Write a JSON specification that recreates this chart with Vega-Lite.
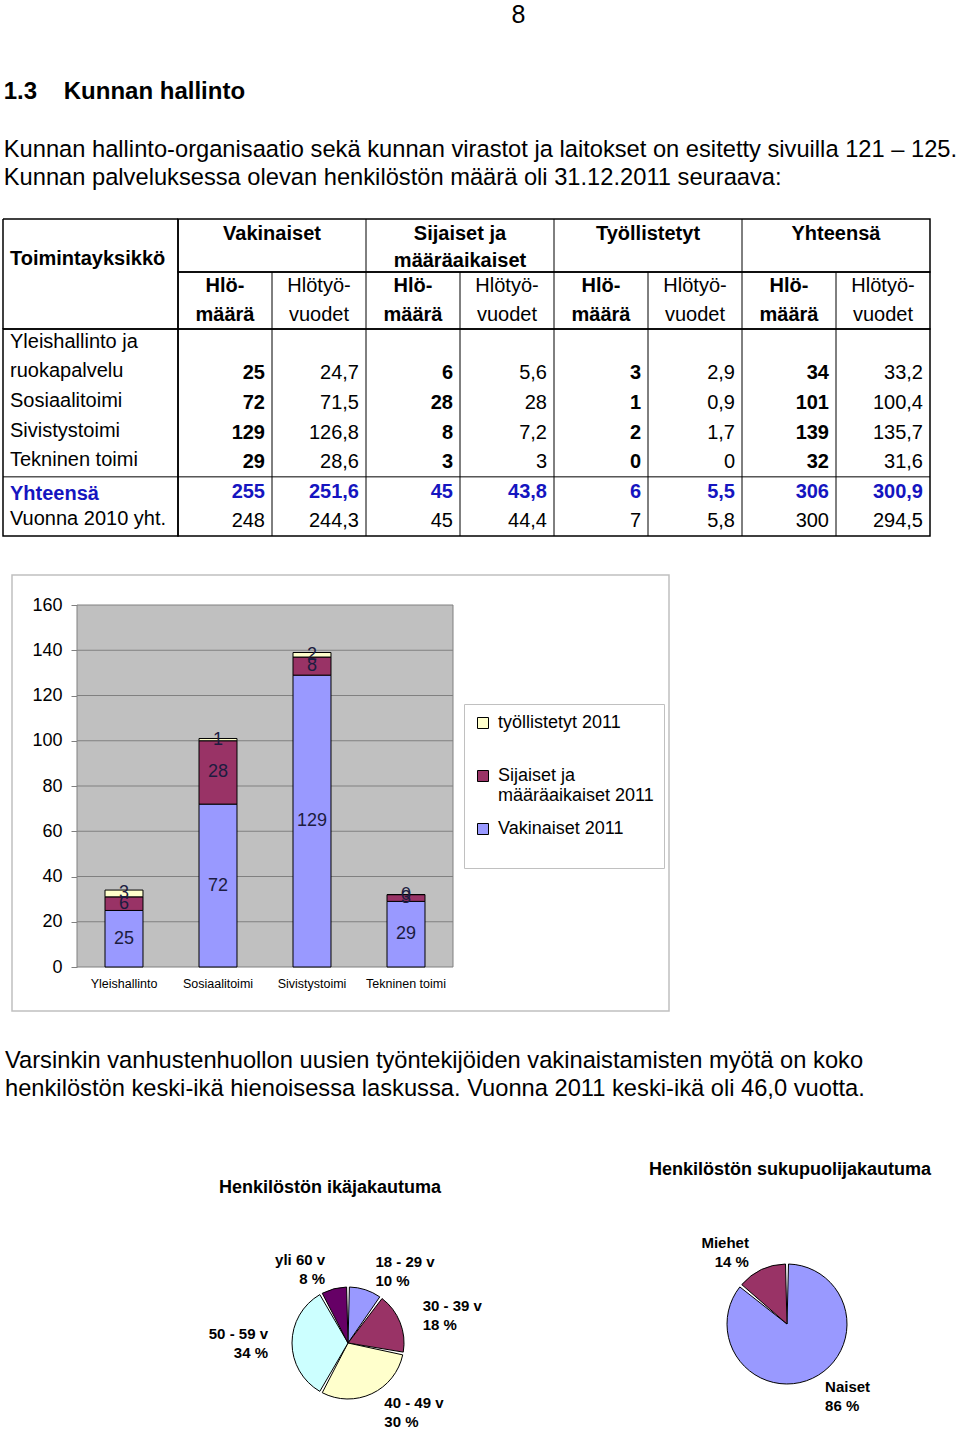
{
  "$schema": "https://vega.github.io/schema/vega-lite/v6.json",
  "padding": {"left": 1, "top": 3, "right": 0, "bottom": 0},
  "background": "white",
  "title": {"text": "8", "fontSize": 25, "fontWeight": "normal", "anchor": "middle", "dx": 39, "offset": 52},
  "spacing": 36,
  "resolve": {"scale": {"color": "independent"}, "legend": {"color": "independent"}},
  "vconcat": [
    {
      "title": {
        "text": "1.3\u00a0\u00a0\u00a0\u00a0Kunnan hallinto",
        "subtitle": ["Kunnan hallinto-organisaatio sekä kunnan virastot ja laitokset on esitetty sivuilla 121 – 125.", "Kunnan palveluksessa olevan henkilöstön määrä oli 31.12.2011 seuraava:"],
        "anchor": "start", "fontSize": 24, "fontWeight": "bold", "subtitleFontSize": 23.7, "subtitleLineHeight": 28, "subtitlePadding": 34, "offset": 28, "dx": 2
      },
      "columns": 2,
      "bounds": "flush",
      "spacing": 0,
      "concat": [
        {
          "width": 175, "height": 53,
          "layer": [
            {
              "data": {"values": [{"row": "h2", "label": "Toimintayksikkö"}]},
              "mark": {"type": "text", "align": "left", "baseline": "middle", "dx": 7, "fontSize": 20, "fontWeight": "bold"},
              "encoding": {
                "x": {"datum": "name", "type": "nominal", "bandPosition": 0, "axis": null, "scale": {"type": "band", "paddingInner": 0, "paddingOuter": 0}},
                "y": {"field": "row", "type": "nominal", "axis": null, "scale": {"type": "band", "domain": ["h1", "h2"], "paddingInner": 0, "paddingOuter": 0}},
                "text": {"field": "label"}
              }
            },
            {
              "data": {"values": [{}]},
              "mark": {"type": "rule", "color": "black", "strokeWidth": 1.5},
              "encoding": {"y": {"datum": "h1", "type": "nominal", "bandPosition": 0, "axis": null, "scale": {"type": "band", "domain": ["h1", "h2"], "paddingInner": 0, "paddingOuter": 0}}}
            },
            {
              "data": {"values": [{}]},
              "mark": {"type": "rule", "color": "black", "strokeWidth": 1.5},
              "encoding": {"x": {"datum": "name", "type": "nominal", "bandPosition": 0, "axis": null, "scale": {"type": "band", "paddingInner": 0, "paddingOuter": 0}}}
            },
            {
              "data": {"values": [{}]},
              "mark": {"type": "rule", "color": "black", "strokeWidth": 1.5},
              "encoding": {"x": {"datum": "name", "type": "nominal", "bandPosition": 1, "axis": null, "scale": {"type": "band", "paddingInner": 0, "paddingOuter": 0}}}
            }
          ]
        },
        {
          "width": 752, "height": 53,
          "view": {"stroke": "black", "strokeWidth": 1.5},
          "layer": [
            {
              "data": {"values": [
                {"col": "v_v", "row": "h1", "label": "Vakinaiset"},
                {"col": "s_v", "row": "h1", "label": "Sijaiset ja"},
                {"col": "s_v", "row": "h2", "label": "määräaikaiset"},
                {"col": "t_v", "row": "h1", "label": "Työllistetyt"},
                {"col": "y_v", "row": "h1", "label": "Yhteensä"}
              ]},
              "mark": {"type": "text", "align": "center", "baseline": "middle", "dy": 2, "fontSize": 20, "fontWeight": "bold"},
              "encoding": {
                "x": {"field": "col", "type": "nominal", "bandPosition": 0, "axis": null, "scale": {"type": "band", "domain": ["v_n", "v_v", "s_n", "s_v", "t_n", "t_v", "y_n", "y_v"], "paddingInner": 0, "paddingOuter": 0}},
                "y": {"field": "row", "type": "nominal", "axis": null, "scale": {"type": "band", "domain": ["h1", "h2"], "paddingInner": 0, "paddingOuter": 0}},
                "text": {"field": "label"}
              }
            },
            {
              "data": {"values": [{"col": "s_n"}, {"col": "t_n"}, {"col": "y_n"}]},
              "mark": {"type": "rule", "color": "black", "strokeWidth": 1},
              "encoding": {
                "x": {"field": "col", "type": "nominal", "bandPosition": 0, "axis": null, "scale": {"type": "band", "domain": ["v_n", "v_v", "s_n", "s_v", "t_n", "t_v", "y_n", "y_v"], "paddingInner": 0, "paddingOuter": 0}}
              }
            }
          ]
        },
        {
          "width": 175, "height": 57,
          "layer": [
            {
              "data": {"values": [{}]},
              "mark": {"type": "rule", "color": "black", "strokeWidth": 1.5},
              "encoding": {"y": {"datum": "h4", "type": "nominal", "bandPosition": 1, "axis": null, "scale": {"type": "band", "domain": ["h3", "h4"], "paddingInner": 0, "paddingOuter": 0}}}
            },
            {
              "data": {"values": [{}]},
              "mark": {"type": "rule", "color": "black", "strokeWidth": 1.5},
              "encoding": {"x": {"datum": "name", "type": "nominal", "bandPosition": 0, "axis": null, "scale": {"type": "band", "paddingInner": 0, "paddingOuter": 0}}}
            },
            {
              "data": {"values": [{}]},
              "mark": {"type": "rule", "color": "black", "strokeWidth": 1.5},
              "encoding": {"x": {"datum": "name", "type": "nominal", "bandPosition": 1, "axis": null, "scale": {"type": "band", "paddingInner": 0, "paddingOuter": 0}}}
            }
          ]
        },
        {
          "width": 752, "height": 57,
          "view": {"stroke": "black", "strokeWidth": 1.5},
          "layer": [
            {
              "data": {"name": "subhead", "values": [
                {"col": "v_n", "row": "h3", "label": "Hlö-"}, {"col": "v_n", "row": "h4", "label": "määrä"},
                {"col": "v_v", "row": "h3", "label": "Hlötyö-"}, {"col": "v_v", "row": "h4", "label": "vuodet"},
                {"col": "s_n", "row": "h3", "label": "Hlö-"}, {"col": "s_n", "row": "h4", "label": "määrä"},
                {"col": "s_v", "row": "h3", "label": "Hlötyö-"}, {"col": "s_v", "row": "h4", "label": "vuodet"},
                {"col": "t_n", "row": "h3", "label": "Hlö-"}, {"col": "t_n", "row": "h4", "label": "määrä"},
                {"col": "t_v", "row": "h3", "label": "Hlötyö-"}, {"col": "t_v", "row": "h4", "label": "vuodet"},
                {"col": "y_n", "row": "h3", "label": "Hlö-"}, {"col": "y_n", "row": "h4", "label": "määrä"},
                {"col": "y_v", "row": "h3", "label": "Hlötyö-"}, {"col": "y_v", "row": "h4", "label": "vuodet"}
              ]},
              "transform": [{"filter": "substring(datum.col, 2, 3) == 'n'"}],
              "mark": {"type": "text", "align": "center", "baseline": "middle", "fontSize": 20, "fontWeight": "bold"},
              "encoding": {
                "x": {"field": "col", "type": "nominal", "bandPosition": 0.5, "axis": null, "scale": {"type": "band", "domain": ["v_n", "v_v", "s_n", "s_v", "t_n", "t_v", "y_n", "y_v"], "paddingInner": 0, "paddingOuter": 0}},
                "y": {"field": "row", "type": "nominal", "axis": null, "scale": {"type": "band", "domain": ["h3", "h4"], "paddingInner": 0, "paddingOuter": 0}},
                "text": {"field": "label"}
              }
            },
            {
              "data": {"name": "subhead"},
              "transform": [{"filter": "substring(datum.col, 2, 3) == 'v'"}],
              "mark": {"type": "text", "align": "center", "baseline": "middle", "fontSize": 20},
              "encoding": {
                "x": {"field": "col", "type": "nominal", "bandPosition": 0.5, "axis": null, "scale": {"type": "band", "domain": ["v_n", "v_v", "s_n", "s_v", "t_n", "t_v", "y_n", "y_v"], "paddingInner": 0, "paddingOuter": 0}},
                "y": {"field": "row", "type": "nominal", "axis": null, "scale": {"type": "band", "domain": ["h3", "h4"], "paddingInner": 0, "paddingOuter": 0}},
                "text": {"field": "label"}
              }
            },
            {
              "data": {"values": [{"col": "v_v"}, {"col": "s_n"}, {"col": "s_v"}, {"col": "t_n"}, {"col": "t_v"}, {"col": "y_n"}, {"col": "y_v"}]},
              "mark": {"type": "rule", "color": "black", "strokeWidth": 1},
              "encoding": {
                "x": {"field": "col", "type": "nominal", "bandPosition": 0, "axis": null, "scale": {"type": "band", "domain": ["v_n", "v_v", "s_n", "s_v", "t_n", "t_v", "y_n", "y_v"], "paddingInner": 0, "paddingOuter": 0}}
              }
            }
          ]
        },
        {
          "width": 175, "height": 207,
          "view": {"stroke": "black", "strokeWidth": 1.5},
          "data": {"values": [
            {"row": "r1", "label": "Yleishallinto ja"},
            {"row": "r2", "label": "ruokapalvelu"},
            {"row": "r3", "label": "Sosiaalitoimi"},
            {"row": "r4", "label": "Sivistystoimi"},
            {"row": "r5", "label": "Tekninen toimi"},
            {"row": "r6", "label": "Yhteensä"},
            {"row": "r7", "label": "Vuonna 2010 yht."}
          ]},
          "layer": [
            {
              "transform": [{"filter": "datum.row != 'r6'"}],
              "mark": {"type": "text", "align": "left", "baseline": "middle", "dx": 7, "dy": -2, "fontSize": 20},
              "encoding": {
                "x": {"datum": "name", "type": "nominal", "bandPosition": 0, "axis": null, "scale": {"type": "band", "paddingInner": 0, "paddingOuter": 0}},
                "y": {"field": "row", "type": "nominal", "axis": null, "scale": {"type": "band", "domain": ["r1", "r2", "r3", "r4", "r5", "r6", "r7"], "paddingInner": 0, "paddingOuter": 0}},
                "text": {"field": "label"}
              }
            },
            {
              "transform": [{"filter": "datum.row == 'r6'"}],
              "mark": {"type": "text", "align": "left", "baseline": "middle", "dx": 7, "dy": 2, "fontSize": 20, "fontWeight": "bold", "color": "#1515c0"},
              "encoding": {
                "x": {"datum": "name", "type": "nominal", "bandPosition": 0, "axis": null, "scale": {"type": "band", "paddingInner": 0, "paddingOuter": 0}},
                "y": {"field": "row", "type": "nominal", "axis": null, "scale": {"type": "band", "domain": ["r1", "r2", "r3", "r4", "r5", "r6", "r7"], "paddingInner": 0, "paddingOuter": 0}},
                "text": {"field": "label"}
              }
            },
            {
              "data": {"values": [{"row": "r6"}]},
              "mark": {"type": "rule", "color": "black", "strokeWidth": 1},
              "encoding": {
                "y": {"field": "row", "type": "nominal", "bandPosition": 0, "axis": null, "scale": {"type": "band", "domain": ["r1", "r2", "r3", "r4", "r5", "r6", "r7"], "paddingInner": 0, "paddingOuter": 0}}
              }
            }
          ]
        },
        {
          "width": 752, "height": 207,
          "view": {"stroke": "black", "strokeWidth": 1.5},
          "layer": [
            {
              "data": {"name": "body", "values": [
                {"row": "r2", "unit": "Yleishallinto ja ruokapalvelu", "v_n": 25, "v_v": 24.7, "s_n": 6, "s_v": 5.6, "t_n": 3, "t_v": 2.9, "y_n": 34, "y_v": 33.2},
                {"row": "r3", "unit": "Sosiaalitoimi", "v_n": 72, "v_v": 71.5, "s_n": 28, "s_v": 28, "t_n": 1, "t_v": 0.9, "y_n": 101, "y_v": 100.4},
                {"row": "r4", "unit": "Sivistystoimi", "v_n": 129, "v_v": 126.8, "s_n": 8, "s_v": 7.2, "t_n": 2, "t_v": 1.7, "y_n": 139, "y_v": 135.7},
                {"row": "r5", "unit": "Tekninen toimi", "v_n": 29, "v_v": 28.6, "s_n": 3, "s_v": 3, "t_n": 0, "t_v": 0, "y_n": 32, "y_v": 31.6},
                {"row": "r6", "unit": "Yhteensä", "v_n": 255, "v_v": 251.6, "s_n": 45, "s_v": 43.8, "t_n": 6, "t_v": 5.5, "y_n": 306, "y_v": 300.9},
                {"row": "r7", "unit": "Vuonna 2010 yht.", "v_n": 248, "v_v": 244.3, "s_n": 45, "s_v": 44.4, "t_n": 7, "t_v": 5.8, "y_n": 300, "y_v": 294.5}
              ]},
              "transform": [
                {"fold": ["v_n", "v_v", "s_n", "s_v", "t_n", "t_v", "y_n", "y_v"], "as": ["col", "val"]},
                {"filter": "(substring(datum.col, 2, 3) == 'n' && datum.row != 'r7') || datum.row == 'r6'"}
              ],
              "mark": {"type": "text", "align": "right", "baseline": "middle", "dx": -7, "fontSize": 20, "fontWeight": "bold"},
              "encoding": {
                "x": {"field": "col", "type": "nominal", "bandPosition": 1, "axis": null, "scale": {"type": "band", "domain": ["v_n", "v_v", "s_n", "s_v", "t_n", "t_v", "y_n", "y_v"], "paddingInner": 0, "paddingOuter": 0}},
                "y": {"field": "row", "type": "nominal", "axis": null, "scale": {"type": "band", "domain": ["r1", "r2", "r3", "r4", "r5", "r6", "r7"], "paddingInner": 0, "paddingOuter": 0}},
                "text": {"field": "val", "type": "quantitative", "format": ".1~f"},
                "color": {"condition": {"test": "datum.row == 'r6'", "value": "#1515c0"}, "value": "black"}
              }
            },
            {
              "data": {"name": "body"},
              "transform": [
                {"fold": ["v_n", "v_v", "s_n", "s_v", "t_n", "t_v", "y_n", "y_v"], "as": ["col", "val"]},
                {"filter": "!((substring(datum.col, 2, 3) == 'n' && datum.row != 'r7') || datum.row == 'r6')"}
              ],
              "mark": {"type": "text", "align": "right", "baseline": "middle", "dx": -7, "fontSize": 20, "color": "black"},
              "encoding": {
                "x": {"field": "col", "type": "nominal", "bandPosition": 1, "axis": null, "scale": {"type": "band", "domain": ["v_n", "v_v", "s_n", "s_v", "t_n", "t_v", "y_n", "y_v"], "paddingInner": 0, "paddingOuter": 0}},
                "y": {"field": "row", "type": "nominal", "axis": null, "scale": {"type": "band", "domain": ["r1", "r2", "r3", "r4", "r5", "r6", "r7"], "paddingInner": 0, "paddingOuter": 0}},
                "text": {"field": "val", "type": "quantitative", "format": ".1~f"}
              }
            },
            {
              "data": {"values": [{"col": "v_v"}, {"col": "s_n"}, {"col": "s_v"}, {"col": "t_n"}, {"col": "t_v"}, {"col": "y_n"}, {"col": "y_v"}]},
              "mark": {"type": "rule", "color": "black", "strokeWidth": 1},
              "encoding": {
                "x": {"field": "col", "type": "nominal", "bandPosition": 0, "axis": null, "scale": {"type": "band", "domain": ["v_n", "v_v", "s_n", "s_v", "t_n", "t_v", "y_n", "y_v"], "paddingInner": 0, "paddingOuter": 0}}
              }
            },
            {
              "data": {"values": [{"row": "r6"}]},
              "mark": {"type": "rule", "color": "black", "strokeWidth": 1},
              "encoding": {
                "y": {"field": "row", "type": "nominal", "bandPosition": 0, "axis": null, "scale": {"type": "band", "domain": ["r1", "r2", "r3", "r4", "r5", "r6", "r7"], "paddingInner": 0, "paddingOuter": 0}}
              }
            }
          ]
        }
      ]
    },
    {
      "bounds": "flush",
      "spacing": 8,
      "hconcat": [
        {"width": 1, "height": 1, "data": {"values": []}, "mark": "point"},
        {
          "width": 657, "height": 436,
          "view": {"stroke": "#c0c0c0", "strokeWidth": 1.5, "fill": "white"},
          "data": {"values": [
            {"unit": "Yleishallinto", "series": "Vakinaiset 2011", "value": 25},
            {"unit": "Yleishallinto", "series": "Sijaiset ja määräaikaiset 2011", "value": 6},
            {"unit": "Yleishallinto", "series": "työllistetyt 2011", "value": 3},
            {"unit": "Sosiaalitoimi", "series": "Vakinaiset 2011", "value": 72},
            {"unit": "Sosiaalitoimi", "series": "Sijaiset ja määräaikaiset 2011", "value": 28},
            {"unit": "Sosiaalitoimi", "series": "työllistetyt 2011", "value": 1},
            {"unit": "Sivistystoimi", "series": "Vakinaiset 2011", "value": 129},
            {"unit": "Sivistystoimi", "series": "Sijaiset ja määräaikaiset 2011", "value": 8},
            {"unit": "Sivistystoimi", "series": "työllistetyt 2011", "value": 2},
            {"unit": "Tekninen toimi", "series": "Vakinaiset 2011", "value": 29},
            {"unit": "Tekninen toimi", "series": "Sijaiset ja määräaikaiset 2011", "value": 3},
            {"unit": "Tekninen toimi", "series": "työllistetyt 2011", "value": 0}
          ]},
          "transform": [
            {"calculate": "indexof(['Vakinaiset 2011', 'Sijaiset ja määräaikaiset 2011', 'työllistetyt 2011'], datum.series)", "as": "ord"},
            {"stack": "value", "groupby": ["unit"], "sort": [{"field": "ord", "order": "ascending"}], "as": ["y0", "y1"]},
            {"calculate": "(datum.y0 + datum.y1) / 2", "as": "ymid"}
          ],
          "layer": [
            {
              "data": {"values": [{}]},
              "mark": {"type": "rect", "fill": "#c0c0c0", "stroke": "#808080", "strokeWidth": 1},
              "encoding": {
                "x": {"datum": 0, "type": "quantitative", "scale": {"domain": [0, 1], "range": [65, 441]}, "axis": null},
                "x2": {"datum": 1},
                "y": {"datum": 0, "type": "quantitative", "scale": {"domain": [0, 160], "range": [392, 30], "nice": false, "zero": false},
                      "axis": {"title": null, "orient": "left", "offset": -65, "values": [0, 20, 40, 60, 80, 100, 120, 140, 160], "domain": false, "grid": false, "ticks": true, "tickSize": 6, "tickColor": "#808080", "labelFontSize": 18, "labelColor": "black", "labelPadding": 9}},
                "y2": {"datum": 160}
              }
            },
            {
              "data": {"values": [{"v": 20}, {"v": 40}, {"v": 60}, {"v": 80}, {"v": 100}, {"v": 120}, {"v": 140}]},
              "mark": {"type": "rule", "color": "#808080", "strokeWidth": 1},
              "encoding": {
                "x": {"datum": 0, "type": "quantitative", "scale": {"domain": [0, 1], "range": [65, 441]}, "axis": null},
                "x2": {"datum": 1},
                "y": {"field": "v", "type": "quantitative"}
              }
            },
            {
              "mark": {"type": "bar", "stroke": "black", "strokeWidth": 1},
              "encoding": {
                "x": {"field": "unit", "type": "nominal", "sort": null, "scale": {"domain": ["Yleishallinto", "Sosiaalitoimi", "Sivistystoimi", "Tekninen toimi"], "range": [65, 441], "paddingInner": 0.596, "paddingOuter": 0.298},
                      "axis": {"title": null, "orient": "bottom", "offset": -44, "domain": false, "ticks": false, "labelFontSize": 12.5, "labelColor": "black", "labelPadding": 10, "labelAngle": 0}},
                "y": {"field": "y0", "type": "quantitative"},
                "y2": {"field": "y1"},
                "color": {"field": "series", "type": "nominal",
                  "scale": {"domain": ["työllistetyt 2011", "Sijaiset ja määräaikaiset 2011", "Vakinaiset 2011"], "range": ["#ffffcc", "#993366", "#9999ff"]},
                  "legend": {"title": null, "orient": "none", "legendX": 461, "legendY": 129, "direction": "vertical", "symbolType": "square", "symbolSize": 121, "symbolStrokeColor": "black", "symbolStrokeWidth": 1, "labelFontSize": 18, "labelColor": "black", "labelLimit": 400, "strokeColor": "#c0c0c0", "fillColor": "white", "padding": 10, "rowPadding": 15, "labelOffset": 6,
                    "labelExpr": "datum.label == 'Sijaiset ja määräaikaiset 2011' ? ['Sijaiset ja', 'määräaikaiset 2011'] : [datum.label, '']"}}
              }
            },
            {
              "mark": {"type": "text", "fontSize": 18, "color": "#1c1c40", "baseline": "middle"},
              "encoding": {
                "x": {"field": "unit", "type": "nominal", "sort": null, "scale": {"type": "band", "domain": ["Yleishallinto", "Sosiaalitoimi", "Sivistystoimi", "Tekninen toimi"], "range": [65, 441], "paddingInner": 0.596, "paddingOuter": 0.298}, "axis": null},
                "y": {"field": "ymid", "type": "quantitative"},
                "text": {"field": "value", "type": "quantitative"}
              }
            }
          ],
          "resolve": {"scale": {"x": "independent"}}
        }
      ]
    },
    {
      "title": {
        "text": ["Varsinkin vanhustenhuollon uusien työntekijöiden vakinaistamisten myötä on koko", "henkilöstön keski-ikä hienoisessa laskussa. Vuonna 2011 keski-ikä oli 46,0 vuotta."],
        "anchor": "start", "fontSize": 23.7, "fontWeight": "normal", "lineHeight": 28, "offset": 60, "dx": 2
      },
      "bounds": "flush",
      "spacing": 0,
      "resolve": {"scale": {"color": "independent"}},
      "hconcat": [
        {
          "width": 690, "height": 166,
          "title": {"text": "Henkilöstön ikäjakautuma", "fontSize": 18, "fontWeight": "bold", "anchor": "middle", "offset": 56, "dx": -18},
          "data": {"values": [
            {"group": "18 - 29 v", "pct": 10},
            {"group": "30 - 39 v", "pct": 18},
            {"group": "40 - 49 v", "pct": 30},
            {"group": "50 - 59 v", "pct": 34},
            {"group": "yli 60 v", "pct": 8}
          ]},
          "transform": [{"calculate": "[datum.group, datum.pct + ' %']", "as": "lbl"}],
          "layer": [
            {
              "mark": {"type": "arc", "outerRadius": 56, "stroke": "black", "strokeWidth": 1, "padAngle": 0.05},
              "encoding": {
                "theta": {"field": "pct", "type": "quantitative", "stack": true},
                "order": {"field": "group", "type": "ordinal", "sort": "ascending"},
                "color": {"field": "group", "type": "nominal", "legend": null,
                  "scale": {"domain": ["18 - 29 v", "30 - 39 v", "40 - 49 v", "50 - 59 v", "yli 60 v"], "range": ["#9999ff", "#993366", "#ffffcc", "#ccffff", "#660066"]}}
              }
            },
            {
              "mark": {"type": "text", "radius": 76, "align": "left", "dx": 4, "dy": -9, "fontSize": 15, "fontWeight": "bold", "lineHeight": 19, "color": "black"},
              "encoding": {
                "theta": {"field": "pct", "type": "quantitative", "stack": true},
                "order": {"field": "group", "type": "ordinal", "sort": "ascending"},
                "text": {"condition": {"test": "datum.group == '18 - 29 v' || datum.group == '30 - 39 v' || datum.group == '40 - 49 v'", "field": "lbl"}, "value": ""}
              }
            },
            {
              "mark": {"type": "text", "radius": 76, "align": "right", "dx": -4, "dy": -9, "fontSize": 15, "fontWeight": "bold", "lineHeight": 19, "color": "black"},
              "encoding": {
                "theta": {"field": "pct", "type": "quantitative", "stack": true},
                "order": {"field": "group", "type": "ordinal", "sort": "ascending"},
                "text": {"condition": {"test": "datum.group == '50 - 59 v' || datum.group == 'yli 60 v'", "field": "lbl"}, "value": ""}
              }
            }
          ]
        },
        {
          "width": 188, "height": 128,
          "title": {"text": "Henkilöstön sukupuolijakautuma", "fontSize": 18, "fontWeight": "bold", "anchor": "middle", "offset": 57, "dx": 3},
          "data": {"values": [
            {"group": "Naiset", "pct": 86},
            {"group": "Miehet", "pct": 14}
          ]},
          "transform": [{"calculate": "[datum.group, datum.pct + ' %']", "as": "lbl"}],
          "layer": [
            {
              "mark": {"type": "arc", "outerRadius": 60, "stroke": "black", "strokeWidth": 1, "padAngle": 0.05},
              "encoding": {
                "theta": {"field": "pct", "type": "quantitative", "stack": true},
                "order": {"field": "pct", "type": "quantitative", "sort": "descending"},
                "color": {"field": "group", "type": "nominal", "legend": null,
                  "scale": {"domain": ["Naiset", "Miehet"], "range": ["#9999ff", "#993366"]}}
              }
            },
            {
              "mark": {"type": "text", "radius": 80, "align": "left", "dx": 4, "dy": -9, "fontSize": 15, "fontWeight": "bold", "lineHeight": 19, "color": "black"},
              "encoding": {
                "theta": {"field": "pct", "type": "quantitative", "stack": true},
                "order": {"field": "pct", "type": "quantitative", "sort": "descending"},
                "text": {"condition": {"test": "datum.group == 'Naiset'", "field": "lbl"}, "value": ""}
              }
            },
            {
              "mark": {"type": "text", "radius": 80, "align": "right", "dx": -4, "dy": -9, "fontSize": 15, "fontWeight": "bold", "lineHeight": 19, "color": "black"},
              "encoding": {
                "theta": {"field": "pct", "type": "quantitative", "stack": true},
                "order": {"field": "pct", "type": "quantitative", "sort": "descending"},
                "text": {"condition": {"test": "datum.group == 'Miehet'", "field": "lbl"}, "value": ""}
              }
            }
          ]
        }
      ]
    }
  ],
  "config": {
    "font": "Liberation Sans",
    "view": {"stroke": null},
    "locale": {"number": {"decimal": ",", "thousands": "\u00a0", "grouping": [3], "currency": ["", "\u00a0€"]}},
    "text": {"font": "Liberation Sans"},
    "title": {"font": "Liberation Sans", "color": "black", "subtitleFont": "Liberation Sans", "subtitleColor": "black"},
    "axis": {"labelFont": "Liberation Sans"},
    "legend": {"labelFont": "Liberation Sans"}
  }
}
